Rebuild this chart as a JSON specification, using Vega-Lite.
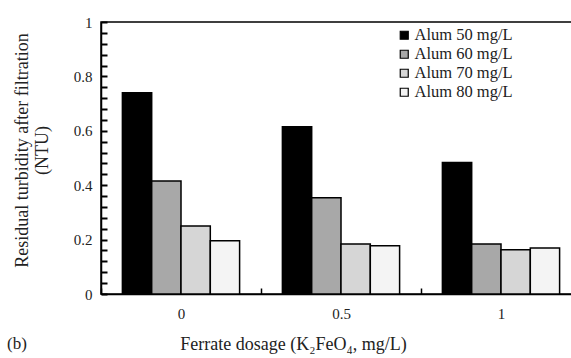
{
  "$schema": "https://vega.github.io/schema/vega-lite/v6.json",
  "width": 480,
  "height": 272,
  "autosize": {"type": "none"},
  "padding": {"left": 101, "top": 22, "right": 0, "bottom": 64},
  "background": "white",
  "config": {
    "font": "Liberation Serif",
    "view": {"stroke": "black", "strokeWidth": 1.5},
    "axis": {"labelFont": "Liberation Serif", "titleFont": "Liberation Serif"}
  },
  "title": {
    "text": "(b)",
    "orient": "bottom",
    "anchor": "start",
    "frame": "group",
    "dx": -94,
    "offset": -17,
    "fontSize": 17,
    "fontWeight": "normal",
    "font": "Liberation Serif",
    "color": "#222"
  },
  "data": {
    "values": [
      {"dose": "0", "alum": "Alum 50 mg/L", "value": 0.74},
      {"dose": "0", "alum": "Alum 60 mg/L", "value": 0.415},
      {"dose": "0", "alum": "Alum 70 mg/L", "value": 0.25},
      {"dose": "0", "alum": "Alum 80 mg/L", "value": 0.196},
      {"dose": "0.5", "alum": "Alum 50 mg/L", "value": 0.615},
      {"dose": "0.5", "alum": "Alum 60 mg/L", "value": 0.354},
      {"dose": "0.5", "alum": "Alum 70 mg/L", "value": 0.184},
      {"dose": "0.5", "alum": "Alum 80 mg/L", "value": 0.177},
      {"dose": "1", "alum": "Alum 50 mg/L", "value": 0.483},
      {"dose": "1", "alum": "Alum 60 mg/L", "value": 0.184},
      {"dose": "1", "alum": "Alum 70 mg/L", "value": 0.163},
      {"dose": "1", "alum": "Alum 80 mg/L", "value": 0.169}
    ]
  },
  "mark": {"type": "bar", "stroke": "black", "strokeWidth": 1.5},
  "encoding": {
    "x": {
      "field": "dose",
      "type": "nominal",
      "sort": ["0", "0.5", "1"],
      "scale": {"paddingInner": 0, "paddingOuter": 0},
      "axis": {
        "title": "Ferrate dosage (K₂FeO₄, mg/L)",
        "titleFontSize": 18,
        "titleFontWeight": "normal",
        "titleColor": "#222",
        "titleX": 192,
        "titleY": 55,
        "titleBaseline": "alphabetic",
        "titleAnchor": null,
        "titleAlign": "center",
        "labelAngle": 0,
        "labelFontSize": 15,
        "labelColor": "#222",
        "labelPadding": 18,
        "tickBand": "extent",
        "tickSize": -6,
        "tickColor": "black",
        "tickWidth": 1.5,
        "domainColor": "black",
        "domainWidth": 1.5
      }
    },
    "xOffset": {
      "field": "alum",
      "type": "nominal",
      "scale": {"paddingInner": 0, "paddingOuter": 0.73}
    },
    "y": {
      "field": "value",
      "type": "quantitative",
      "scale": {"domain": [0, 1], "nice": false},
      "axis": {
        "title": ["Residual turbidity after filtration", "(NTU)"],
        "titleFontSize": 18,
        "titleFontWeight": "normal",
        "titleColor": "#222",
        "titleLineHeight": 20,
        "titlePadding": 22,
        "titleY": 128,
        "values": [0, 0.04, 0.08, 0.12, 0.16, 0.2, 0.24, 0.28, 0.32, 0.36, 0.4, 0.44, 0.48, 0.52, 0.56, 0.6, 0.64, 0.68, 0.72, 0.76, 0.8, 0.84, 0.88, 0.92, 0.96, 1],
        "format": "~g",
        "labelExpr": "abs(datum.value*5 - round(datum.value*5)) < 0.001 ? datum.label : ''",
        "labelFontSize": 15,
        "labelColor": "#222",
        "labelPadding": 15,
        "tickSize": -6,
        "tickColor": "black",
        "tickWidth": 2,
        "grid": false,
        "domainColor": "black",
        "domainWidth": 1.5
      }
    },
    "color": {
      "field": "alum",
      "type": "nominal",
      "scale": {
        "domain": ["Alum 50 mg/L", "Alum 60 mg/L", "Alum 70 mg/L", "Alum 80 mg/L"],
        "range": ["#000000", "#a8a8a8", "#d6d6d6", "#f4f4f4"]
      },
      "legend": {
        "title": null,
        "orient": "none",
        "legendX": 295,
        "legendY": 5,
        "symbolType": "square",
        "symbolSize": 64,
        "symbolStrokeColor": "black",
        "symbolStrokeWidth": 1.2,
        "symbolOpacity": 1,
        "labelFont": "Liberation Serif",
        "labelFontSize": 16.5,
        "labelColor": "#222",
        "labelOffset": 2,
        "rowPadding": 2
      }
    }
  }
}
